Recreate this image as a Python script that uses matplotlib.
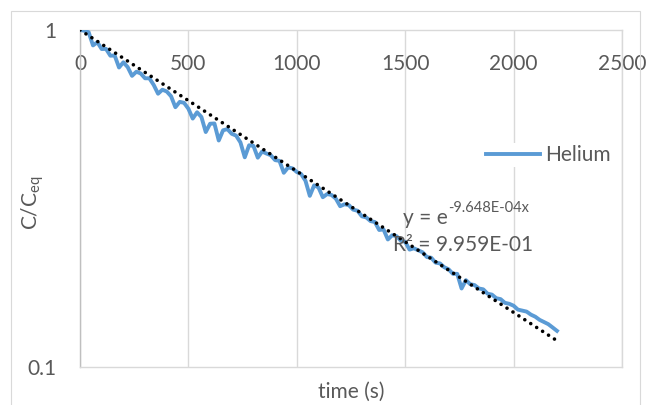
import matplotlib
matplotlib.use("Agg")
import matplotlib.pyplot as plt
from matplotlib.patches import Rectangle
from matplotlib.ticker import FixedLocator, FixedFormatter, NullLocator

plt.rcParams['font.family'] = ['Lato', 'DejaVu Sans']

time_s = [0, 20, 40, 60, 80, 100, 120, 140, 160, 180,
          200, 220, 240, 260, 280, 300, 320, 340, 360, 380,
          400, 420, 440, 460, 480, 500, 520, 540, 560, 580,
          600, 620, 640, 660, 680, 700, 720, 740, 760, 780,
          800, 820, 840, 860, 880, 900, 920, 940, 960, 980,
          1000, 1020, 1040, 1060, 1080, 1100, 1120, 1140, 1160, 1180,
          1200, 1220, 1240, 1260, 1280, 1300, 1320, 1340, 1360, 1380,
          1400, 1420, 1440, 1460, 1480, 1500, 1520, 1540, 1560, 1580,
          1600, 1620, 1640, 1660, 1680, 1700, 1720, 1740, 1760, 1780,
          1800, 1820, 1840, 1860, 1880, 1900, 1920, 1940, 1960, 1980,
          2000, 2020, 2040, 2060, 2080, 2100, 2120, 2140, 2160, 2180,
          2200]
helium = [1.000, 0.995, 0.985, 0.900, 0.920, 0.878, 0.879, 0.839, 0.840, 0.774,
          0.802, 0.776, 0.731, 0.752, 0.743, 0.719, 0.719, 0.687, 0.647, 0.665,
          0.657, 0.636, 0.590, 0.612, 0.608, 0.584, 0.546, 0.570, 0.552, 0.498,
          0.527, 0.528, 0.470, 0.504, 0.508, 0.492, 0.486, 0.464, 0.419, 0.455,
          0.453, 0.418, 0.436, 0.430, 0.425, 0.411, 0.409, 0.377, 0.391, 0.3885,
          0.379, 0.3738, 0.357, 0.322, 0.346, 0.341, 0.319, 0.326, 0.324, 0.316,
          0.300, 0.304, 0.3023, 0.293, 0.2909, 0.280, 0.278, 0.271, 0.2693, 0.255,
          0.256, 0.239, 0.246, 0.2445, 0.237, 0.2352, 0.223, 0.225, 0.2220, 0.219,
          0.212, 0.211, 0.204, 0.203, 0.1977, 0.195, 0.189, 0.189, 0.171, 0.181,
          0.1761, 0.175, 0.171, 0.170, 0.165, 0.164, 0.160, 0.159, 0.155, 0.154,
          0.152, 0.148, 0.147, 0.146, 0.143, 0.141, 0.138, 0.136, 0.134, 0.131,
          0.128]

# exponential trendline end points (straight on the log axis)
trend_x = [0, 2200]
trend_y = [1.0, 0.1197]

eq_text = "y = e"
eq_exp = "-9.648E-04x"
r2_text = "R² = 9.959E-01"

x_ticks = [0, 500, 1000, 1500, 2000, 2500]
y_ticks = [0.1, 1]
y_labels = ["0.1", "1"]

grey = '#595959'
line_grey = '#d9d9d9'

fig = plt.figure(figsize=(6.49, 4.05), dpi=100)
ax = fig.add_axes([80 / 649, 1 - 367 / 405, 542 / 649, 337 / 405])

ax.plot(time_s, helium, color='#5B9BD5', lw=2.8, solid_joinstyle='round',
        label='Helium', zorder=3)
ax.plot(trend_x, trend_y, color='black', lw=2.6, linestyle=(0, (0.01, 1.95)),
        dash_capstyle='round', zorder=4)

ax.set_yscale('log')
ax.set_ylim(0.1, 1)
ax.set_xlim(0, 2500)
ax.yaxis.set_major_locator(FixedLocator(y_ticks))
ax.yaxis.set_major_formatter(FixedFormatter(y_labels))
ax.yaxis.set_minor_locator(NullLocator())
ax.set_xticks(x_ticks)
ax.set_xticklabels([str(t) for t in x_ticks])

ax.grid(axis='x', color=line_grey, lw=1.0, zorder=0)
for s in ax.spines.values():
    s.set_color(line_grey)
    s.set_linewidth(1.0)
ax.spines['left'].set_color('#bfbfbf')

ax.tick_params(axis='x', bottom=False, labelbottom=False, top=True, labeltop=True,
               length=0, pad=-32, labelsize=15, labelcolor=grey)
ax.tick_params(axis='y', length=0, pad=17, labelsize=15, labelcolor=grey)

ax.set_xlabel('time (s)', fontsize=15, color=grey, labelpad=11)
ax.set_ylabel(r'C/C$_\mathregular{eq}$', fontsize=15, color=grey)
ax.yaxis.set_label_coords(-0.063, 0.487)

t1 = ax.text(1490, 0.277, eq_text, fontsize=15, color=grey, va='center', ha='left', zorder=5)
ax.annotate(eq_exp, xy=(1, 0.62), xycoords=t1, fontsize=10.5, color=grey,
            va='bottom', ha='left', zorder=5)
ax.text(1444, 0.230, r2_text, fontsize=15, color=grey, va='center', ha='left', zorder=5)

leg = ax.legend(loc='center left', bbox_to_anchor=(0.745, 0.629), fontsize=15,
                frameon=True, handlelength=2.6, handletextpad=0.25, borderpad=0.1,
                borderaxespad=0)
leg.get_frame().set_edgecolor('none')
leg.get_frame().set_facecolor('white')
leg.get_frame().set_alpha(1)
for t in leg.get_texts():
    t.set_color(grey)

fig.add_artist(Rectangle((11 / 649, -0.05), 629 / 649, 1.05 - 11 / 405,
                         transform=fig.transFigure, fill=False,
                         edgecolor=line_grey, lw=0.8))

fig.savefig('out.png', dpi=100)
